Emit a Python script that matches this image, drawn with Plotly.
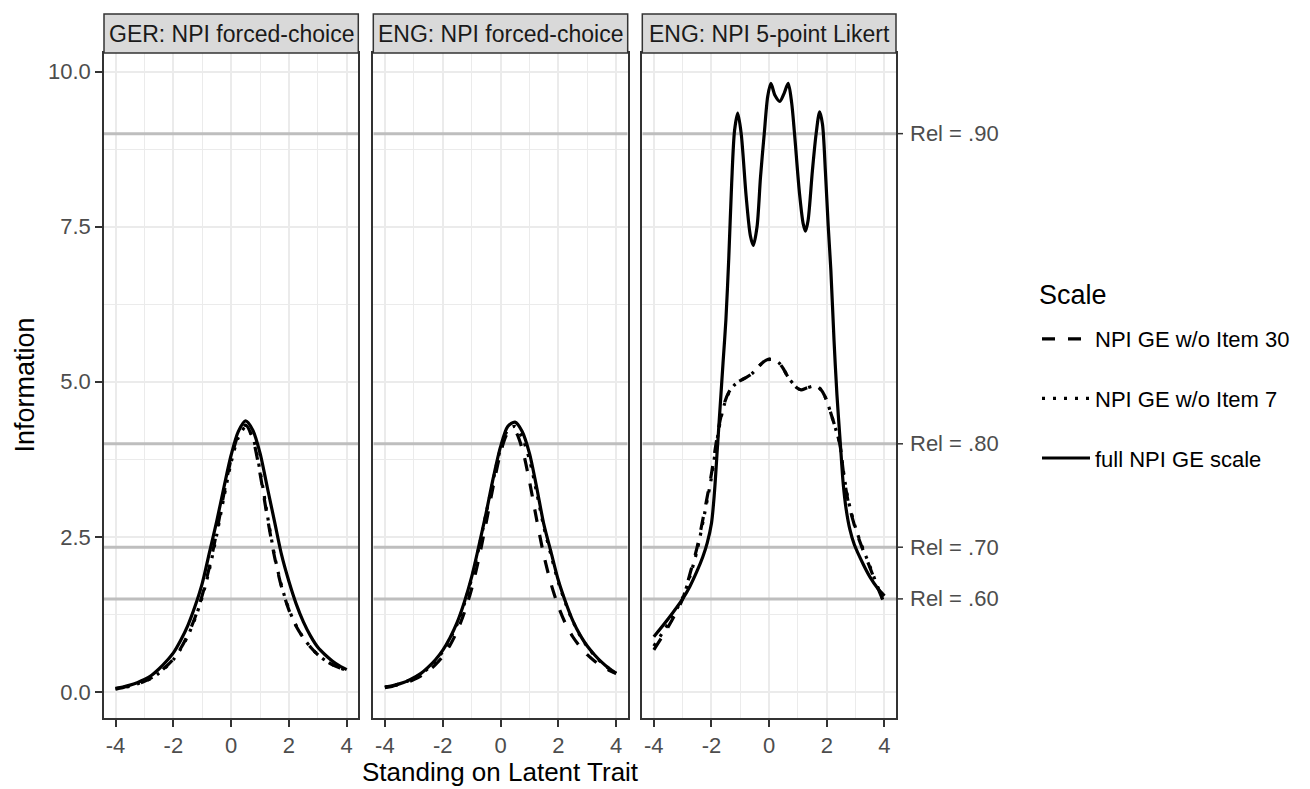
import plotly.graph_objects as go

# ---------------- data ----------------
panels = ["GER: NPI forced-choice", "ENG: NPI forced-choice", "ENG: NPI 5-point Likert"]
series_names = ["NPI GE w/o Item 30", "NPI GE w/o Item 7", "full NPI GE scale"]

theta_fc = [-4, -3.75, -3.5, -3.25, -3, -2.75, -2.5, -2.25, -2, -1.75, -1.5, -1.25, -1,
            -0.75, -0.5, -0.25, 0, 0.25, 0.5, 0.75, 1, 1.25, 1.5, 1.75, 2, 2.25, 2.5,
            2.75, 3, 3.25, 3.5, 3.75, 4]

ger_wo30 = [0.05, 0.07, 0.10, 0.13, 0.17, 0.23, 0.31, 0.41, 0.53, 0.70, 0.92, 1.20, 1.56,
            2.02, 2.58, 3.20, 3.76, 4.15, 4.30, 4.08, 3.52, 2.82, 2.18, 1.68, 1.32, 1.06, 0.87,
            0.72, 0.60, 0.51, 0.44, 0.39, 0.35]
ger_wo7 = [0.05, 0.07, 0.09, 0.13, 0.17, 0.22, 0.30, 0.40, 0.52, 0.69, 0.90, 1.18, 1.53,
           1.98, 2.53, 3.14, 3.70, 4.10, 4.27, 4.10, 3.56, 2.86, 2.20, 1.70, 1.33, 1.07, 0.87,
           0.72, 0.60, 0.51, 0.44, 0.39, 0.35]
ger_full = [0.06, 0.08, 0.11, 0.15, 0.20, 0.27, 0.37, 0.49, 0.63, 0.83, 1.07, 1.38, 1.75,
            2.25, 2.75, 3.30, 3.82, 4.20, 4.37, 4.22, 3.85, 3.30, 2.75, 2.20, 1.78, 1.42, 1.13,
            0.90, 0.72, 0.60, 0.50, 0.42, 0.36]

eng_wo30 = [0.07, 0.09, 0.12, 0.15, 0.20, 0.26, 0.34, 0.44, 0.57, 0.75, 0.98, 1.28, 1.66,
            2.15, 2.72, 3.32, 3.85, 4.17, 4.20, 3.92, 3.40, 2.78, 2.20, 1.74, 1.38, 1.10, 0.89,
            0.73, 0.60, 0.50, 0.42, 0.35, 0.30]
eng_wo7 = [0.08, 0.10, 0.13, 0.17, 0.22, 0.29, 0.38, 0.50, 0.65, 0.85, 1.09, 1.42, 1.82,
           2.32, 2.87, 3.42, 3.92, 4.22, 4.28, 4.10, 3.75, 3.22, 2.66, 2.20, 1.77, 1.43, 1.14,
           0.91, 0.73, 0.59, 0.47, 0.38, 0.30]
eng_full = [0.08, 0.10, 0.13, 0.17, 0.23, 0.30, 0.40, 0.52, 0.67, 0.87, 1.12, 1.45, 1.85,
            2.35, 2.88, 3.45, 3.95, 4.28, 4.35, 4.20, 3.85, 3.30, 2.70, 2.25, 1.80, 1.45, 1.15,
            0.92, 0.74, 0.60, 0.48, 0.38, 0.30]

theta_lik_full = [-4, -3.5, -3, -2.75, -2.5, -2.3, -2.15, -2.0, -1.9, -1.8, -1.7, -1.6, -1.5,
                  -1.4, -1.3, -1.2, -1.09, -0.97, -0.8, -0.65, -0.55, -0.42, -0.3, -0.17, -0.05,
                  0.06, 0.2, 0.37, 0.52, 0.66, 0.78, 0.88, 1.05, 1.18, 1.26, 1.35, 1.5, 1.63,
                  1.75, 1.85, 1.95, 2.05, 2.14, 2.25, 2.35, 2.47, 2.57, 2.67, 2.8, 2.95, 3.25,
                  3.5, 3.75, 4]
lik_full = [0.89, 1.18, 1.50, 1.70, 1.95, 2.18, 2.40, 2.72, 3.20, 3.90, 4.60, 5.30, 6.00,
            7.00, 8.20, 9.05, 9.33, 9.00, 8.00, 7.35, 7.20, 7.50, 8.30, 9.00, 9.60,
            9.81, 9.62, 9.52, 9.65, 9.81, 9.50, 9.00, 8.05, 7.55, 7.43, 7.60, 8.40, 9.00,
            9.35, 9.15, 8.40, 7.50, 6.80, 5.67, 4.80, 4.00, 3.35, 2.95, 2.62, 2.38, 2.07,
            1.85, 1.68, 1.55]

theta_lik = [-4, -3.5, -3, -2.75, -2.5, -2.25, -2, -1.85, -1.7, -1.55, -1.4, -1.2, -1.0, -0.79,
             -0.6, -0.44, -0.25, -0.1, 0.05, 0.2, 0.35, 0.48, 0.65, 0.83, 0.97, 1.11, 1.3,
             1.52, 1.68, 1.8, 1.92, 2.03, 2.17, 2.3, 2.45, 2.6, 2.75, 3.0, 3.22, 3.5, 3.75, 4]
lik_wo30 = [0.68, 1.05, 1.50, 1.90, 2.33, 2.90, 3.52, 3.98, 4.38, 4.66, 4.83, 4.96, 5.02, 5.07,
            5.13, 5.21, 5.30, 5.35, 5.37, 5.36, 5.30, 5.22, 5.08, 4.97, 4.90, 4.87, 4.90,
            4.93, 4.92, 4.87, 4.78, 4.65, 4.45, 4.25, 4.00, 3.45, 3.05, 2.62, 2.33, 2.00, 1.70, 1.42]
lik_wo7 = [0.74, 1.10, 1.52, 1.86, 2.28, 2.85, 3.46, 3.93, 4.35, 4.64, 4.82, 4.95, 5.02, 5.07,
           5.13, 5.21, 5.30, 5.35, 5.36, 5.35, 5.30, 5.22, 5.08, 4.97, 4.90, 4.87, 4.90,
           4.93, 4.92, 4.87, 4.78, 4.65, 4.45, 4.25, 4.00, 3.48, 3.08, 2.64, 2.35, 2.02, 1.71, 1.42]

rel_values = [1.5, 7 / 3, 4, 9]
rel_labels = ["Rel = .60", "Rel = .70", "Rel = .80", "Rel = .90"]

y_ticks = [0, 2.5, 5, 7.5, 10]
y_ticklabels = ["0.0", "2.5", "5.0", "7.5", "10.0"]
x_ticks = [-4, -2, 0, 2, 4]
x_ticklabels = ["-4", "-2", "0", "2", "4"]

# ---------------- figure ----------------
FONT = "Liberation Sans, Arial, sans-serif"
W, H = 1310, 789
ML, MR, MT, MB = 104, 414, 53, 71
PW, PH = W - ML - MR, H - MT - MB
XR = [-4.4, 4.4]
YR = [-0.42, 10.3]

def px_x(X):
    return (X - ML) / PW

def px_y(Y):
    return (H - MB - Y) / PH

domains = [[0, px_x(358.3)], [px_x(373.3), px_x(627.7)], [px_x(642.3), 1]]

dash_styles = {
    "NPI GE w/o Item 30": "13px,13px",
    "NPI GE w/o Item 7": "3px,8px",
    "full NPI GE scale": "solid",
}

panel_data = [
    [(theta_fc, ger_wo30), (theta_fc, ger_wo7), (theta_fc, ger_full)],
    [(theta_fc, eng_wo30), (theta_fc, eng_wo7), (theta_fc, eng_full)],
    [(theta_lik, lik_wo30), (theta_lik, lik_wo7), (theta_lik_full, lik_full)],
]

fig = go.Figure()
for p, pdata in enumerate(panel_data):
    xa = "x" if p == 0 else f"x{p+1}"
    ya = "y" if p == 0 else f"y{p+1}"
    # reliability reference lines (drawn under the curves)
    for rv in rel_values:
        fig.add_trace(go.Scatter(
            x=XR, y=[rv, rv], mode="lines", xaxis=xa, yaxis=ya, showlegend=False,
            hoverinfo="skip", line=dict(color="#BEBEBE", width=3),
        ))
    for s, (xs, ys) in enumerate(pdata):
        name = series_names[s]
        fig.add_trace(go.Scatter(
            x=xs, y=ys, mode="lines", name=name, xaxis=xa, yaxis=ya,
            line=dict(color="black", width=3.2, dash=dash_styles[name], shape="spline", smoothing=0.8),
            legendgroup=name, showlegend=(p == 0),
        ))

grid_major = "#EBEBEB"
axis_common = dict(
    showline=True, linecolor="#333333", linewidth=1.5, mirror=True,
    showgrid=True, gridcolor=grid_major, gridwidth=2, zeroline=False,
    tickfont=dict(family=FONT, size=22, color="#4D4D4D"),
)
layout = dict(
    width=W, height=H, margin=dict(l=ML, r=MR, t=MT, b=MB),
    paper_bgcolor="white", plot_bgcolor="white",
    font=dict(family=FONT),
    showlegend=True,
)
for p in range(3):
    xk = "xaxis" if p == 0 else f"xaxis{p+1}"
    yk = "yaxis" if p == 0 else f"yaxis{p+1}"
    ya = "y" if p == 0 else f"y{p+1}"
    xa = "x" if p == 0 else f"x{p+1}"
    layout[xk] = dict(
        axis_common, domain=domains[p], anchor=ya, range=XR,
        tickvals=x_ticks, ticktext=x_ticklabels, ticks="outside", ticklen=7,
        tickwidth=1.5, tickcolor="#333333",
        minor=dict(tickvals=[-3, -1, 1, 3], showgrid=True, gridcolor=grid_major, gridwidth=1),
    )
    ydict = dict(
        axis_common, domain=[0, 1], anchor=xa, range=YR,
        tickvals=y_ticks, ticktext=y_ticklabels,
        minor=dict(tickvals=[1.25, 3.75, 6.25, 8.75], showgrid=True, gridcolor=grid_major, gridwidth=1),
    )
    if p == 0:
        ydict.update(ticks="outside", ticklen=7, tickwidth=1.5, tickcolor="#333333")
    else:
        ydict.update(showticklabels=False, ticks="")
    layout[yk] = ydict

layout["legend"] = dict(
    font=dict(family=FONT, size=22, color="black"),
    x=px_x(1037), xanchor="left", y=px_y(318), yanchor="top",
    tracegroupgap=28, traceorder="grouped", bgcolor="rgba(0,0,0,0)", itemwidth=48,
)
fig.update_layout(**layout)

# strips and right-hand reliability ticks
shapes = []
for p in range(3):
    xd = "x domain" if p == 0 else f"x{p+1} domain"
    shapes.append(dict(type="rect", xref=xd, x0=0, x1=1, yref="paper", y0=1, y1=px_y(14),
                       fillcolor="#D9D9D9", line=dict(color="#333333", width=1.5)))
for rv in rel_values:
    shapes.append(dict(type="line", xref="paper", x0=1, x1=px_x(903), yref="y3", y0=rv, y1=rv,
                       line=dict(color="#333333", width=1.5)))
fig.update_layout(shapes=shapes)

annotations = []
for p in range(3):
    annotations.append(dict(
        text=panels[p], xref="paper", yref="paper",
        x=(domains[p][0] + domains[p][1]) / 2, y=px_y(34), xanchor="center", yanchor="middle",
        showarrow=False, font=dict(family=FONT, size=23, color="#1A1A1A"),
    ))
for rv, rl in zip(rel_values, rel_labels):
    annotations.append(dict(
        text=rl, xref="paper", yref="y3", x=px_x(908), y=rv, xanchor="left", yanchor="middle",
        showarrow=False, font=dict(family=FONT, size=22, color="#4D4D4D"),
    ))
annotations.append(dict(
    text="Standing on Latent Trait", xref="paper", yref="paper", x=0.5, y=px_y(772),
    xanchor="center", yanchor="middle", showarrow=False,
    font=dict(family=FONT, size=26, color="black"),
))
annotations.append(dict(
    text="Information", xref="paper", yref="paper", x=px_x(24), y=0.5, textangle=-90,
    xanchor="center", yanchor="middle", showarrow=False,
    font=dict(family=FONT, size=27, color="black"),
))
annotations.append(dict(
    text="Scale", xref="paper", yref="paper", x=px_x(1037), y=px_y(295),
    xanchor="left", yanchor="middle", showarrow=False,
    font=dict(family=FONT, size=27, color="black"),
))
fig.update_layout(annotations=annotations)

fig.write_html("out.html")
